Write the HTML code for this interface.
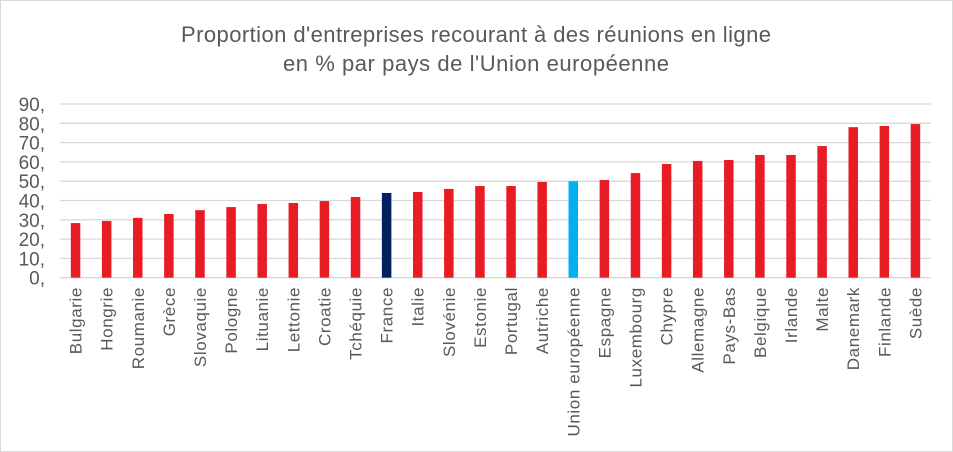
<!DOCTYPE html>
<html><head><meta charset="utf-8"><style>
html,body{margin:0;padding:0;background:#fff;}
svg{display:block;font-family:"Liberation Sans",Arial,sans-serif;}
</style></head><body>
<svg id="chart" width="953" height="452">
<rect x="0.5" y="0.5" width="952" height="451" fill="#fff" stroke="#d9d9d9"/>
<text x="476" y="42" text-anchor="middle" font-size="22" fill="#595959" textLength="590">Proportion d'entreprises recourant à des réunions en ligne</text>
<text x="476" y="71" text-anchor="middle" font-size="22" fill="#595959" textLength="386">en % par pays de l'Union européenne</text>
<g id="grid"></g><g id="bars"></g><g id="labels"></g>
</svg>
<script>
const categories=["Bulgarie","Hongrie","Roumanie","Grèce","Slovaquie","Pologne","Lituanie","Lettonie","Croatie","Tchéquie","France","Italie","Slovénie","Estonie","Portugal","Autriche","Union européenne","Espagne","Luxembourg","Chypre","Allemagne","Pays-Bas","Belgique","Irlande","Malte","Danemark","Finlande","Suède"];
const values=[28.3,29.4,31,33,35,36.6,38.2,38.7,39.7,41.8,43.9,44.4,46,47.5,47.5,49.6,50,50.6,54.2,58.9,60.5,61,63.6,63.6,68.2,78,78.6,79.6];
const ticks=[0,10,20,30,40,50,60,70,80,90];
const tickLabels=["0,","10,","20,","30,","40,","50,","60,","70,","80,","90,"];
const NS="http://www.w3.org/2000/svg";
const x0=60,x1=931,yZero=277.7,yMax=90,yTop=104;
const y=v=>yZero-(v/yMax)*(yZero-yTop);
const band=(x1-x0)/categories.length;
const xc=i=>x0+band*(i+0.5);
function mk(t,a){const e=document.createElementNS(NS,t);for(const k in a)e.setAttribute(k,a[k]);return e;}
const grid=document.getElementById('grid');
ticks.forEach((t,i)=>{
 const l=mk('line',{x1:x0,x2:x1,y1:y(t),y2:y(t),stroke:'#d9d9d9','stroke-width':1.3});
 
 
 grid.appendChild(l);
 const tx=mk('text',{x:45,y:y(t)+7,'text-anchor':'end','font-size':19,fill:'#595959'});
 tx.textContent=tickLabels[i];
 
 
 grid.appendChild(tx);
});
const bars=document.getElementById('bars'),labels=document.getElementById('labels');
categories.forEach((c,i)=>{
 const col=c==="France"?"#002060":(c==="Union européenne"?"#00b0f0":"#e81c24");
 const bw=9.5;
 const r=mk('rect',{x:xc(i)-bw/2,y:y(values[i]),width:bw,height:yZero-y(values[i]),fill:col});
 
 
 bars.appendChild(r);
 const t=mk('text',{transform:`translate(${xc(i)+6},287) rotate(-90)`,'text-anchor':'end','font-size':17,'letter-spacing':0.6,fill:'#595959'});
 t.textContent=c;
 
 
 labels.appendChild(t);
});
</script>
</body></html>
